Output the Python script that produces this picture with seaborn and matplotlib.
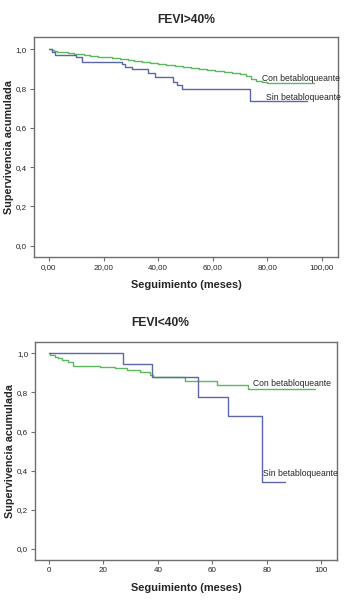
import numpy as np
import pandas as pd
import matplotlib
matplotlib.use("Agg")
import matplotlib.pyplot as plt
import seaborn as sns
from matplotlib.ticker import FuncFormatter

# === DATA (Kaplan-Meier steps) ===
# FEVI>40%
top_con_t = [0, 1, 2, 3, 5, 7, 9, 11, 13, 15, 18, 20, 23, 26, 29, 31, 34, 37, 40, 43,
             46, 49, 52, 55, 58, 61, 64, 67, 70, 72, 74, 76, 78, 80, 97]
top_con_s = [1.0, 0.995, 0.99, 0.988, 0.985, 0.982, 0.978, 0.975, 0.97, 0.967, 0.962,
             0.958, 0.953, 0.948, 0.944, 0.94, 0.936, 0.932, 0.927, 0.922, 0.916, 0.91,
             0.904, 0.9, 0.895, 0.89, 0.885, 0.88, 0.872, 0.862, 0.85, 0.84, 0.833,
             0.828, 0.826]
top_sin_t = [0, 1, 2.2, 10, 12, 26.6, 27.8, 30.3, 36.4, 38.8, 45.5, 46.8, 48.6, 73.6, 94.5]
top_sin_s = [1.0, 0.985, 0.97, 0.96, 0.936, 0.924, 0.91, 0.897, 0.877, 0.86, 0.834,
             0.817, 0.80, 0.738, 0.738]

# FEVI<40%
bot_con_t = [0, 0.4, 2.2, 3.4, 4.6, 7.1, 8.9, 18.8, 24.3, 28.6, 33.5, 37.1, 38.4, 50,
             61.6, 73.3, 97.8]
bot_con_s = [1.0, 0.991, 0.983, 0.974, 0.966, 0.954, 0.937, 0.93, 0.923, 0.915, 0.906,
             0.889, 0.878, 0.86, 0.84, 0.816, 0.816]
bot_sin_t = [0, 27.1, 37.8, 54.9, 65.9, 78.2, 86.7]
bot_sin_s = [1.0, 0.946, 0.878, 0.778, 0.681, 0.342, 0.342]

GREEN = "#5cb85c"
BLUE = "#5a68a8"
GRAY = "#6e6e6e"

sns.set_style("white")
plt.rcParams['font.family'] = ['Liberation Sans', 'DejaVu Sans']

fig = plt.figure(figsize=(3.57, 6.0), dpi=100)
ax1 = fig.add_axes([0.095, 0.572, 0.852, 0.366])
ax2 = fig.add_axes([0.098, 0.067, 0.846, 0.363])


def draw_panel(ax, con_t, con_s, sin_t, sin_s, xlim, ylim, xfmt):
    d = pd.concat([
        pd.DataFrame({"t": con_t, "s": con_s, "grupo": "Con"}),
        pd.DataFrame({"t": sin_t, "s": sin_s, "grupo": "Sin"}),
    ])
    sns.lineplot(data=d, x="t", y="s", hue="grupo", palette={"Con": GREEN, "Sin": BLUE},
                 estimator=None, drawstyle="steps-post", linewidth=1.0, ax=ax, legend=False)
    ax.set_xlim(*xlim)
    ax.set_ylim(*ylim)
    ax.set_xticks([0, 20, 40, 60, 80, 100])
    ax.set_yticks([0, 0.2, 0.4, 0.6, 0.8, 1.0])
    ax.xaxis.set_major_formatter(FuncFormatter(xfmt))
    ax.yaxis.set_major_formatter(FuncFormatter(lambda v, p: f"{v:.1f}".replace(".", ",")))
    ax.tick_params(axis="both", which="both", direction="out", length=3, width=0.8,
                   color=GRAY, labelsize=5.8, labelcolor="#222222", pad=2,
                   left=True, bottom=True)
    for sp in ax.spines.values():
        sp.set_color(GRAY)
        sp.set_linewidth(1.0)
    ax.set_xlabel("Seguimiento (meses)", fontsize=7.9, fontweight="bold", labelpad=7)
    ax.set_ylabel("Supervivencia acumulada", fontsize=7.8, fontweight="bold")
    ax.yaxis.set_label_coords(-0.066, 0.5)
    return ax


draw_panel(ax1, top_con_t, top_con_s, top_sin_t, top_sin_s,
           (-5.5, 105.9), (-0.056, 1.061), lambda v, p: f"{v:.2f}".replace(".", ","))
ax1.text(78, 0.853, "Con betabloqueante", fontsize=6.2, va="center", ha="left")
ax1.text(79.5, 0.756, "Sin betabloqueante", fontsize=6.2, va="center", ha="left")
fig.text(186 / 357, 1 - 20 / 600, "FEVI>40%", fontsize=8.7, fontweight="bold",
         ha="center", va="center")

draw_panel(ax2, bot_con_t, bot_con_s, bot_sin_t, bot_sin_s,
           (-5.15, 105.9), (-0.055, 1.058), lambda v, p: f"{v:.0f}")
ax2.text(75, 0.848, "Con betabloqueante", fontsize=6.2, va="center", ha="left")
ax2.text(78.7, 0.384, "Sin betabloqueante", fontsize=6.2, va="center", ha="left")
fig.text(160 / 357, 1 - 323 / 600, "FEVI<40%", fontsize=8.7, fontweight="bold",
         ha="center", va="center")

fig.savefig("out.png", dpi=100)
